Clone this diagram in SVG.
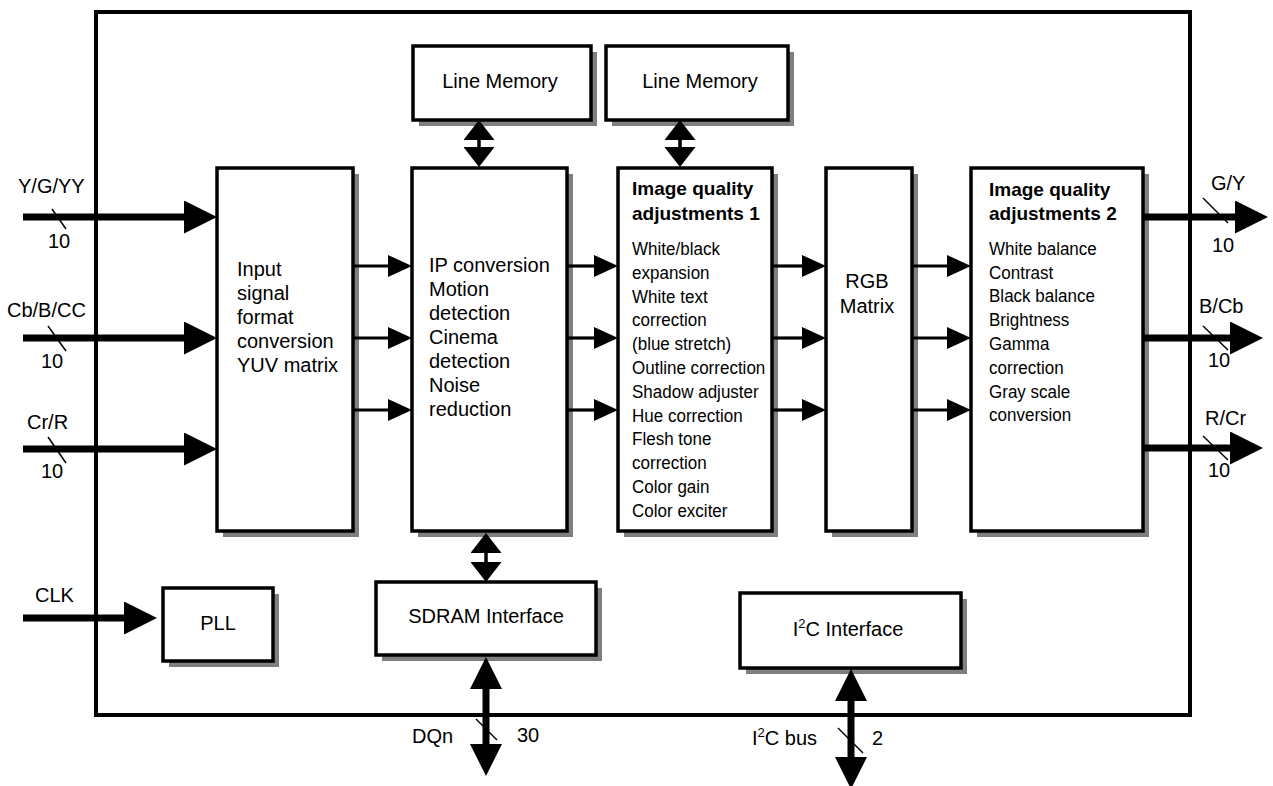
<svg xmlns="http://www.w3.org/2000/svg" width="1273" height="786" viewBox="0 0 1273 786">
<style>
text{font-family:"Liberation Sans",Arial,sans-serif;font-size:20px;fill:#000}
.box{fill:#fff;stroke:#000;stroke-width:3.5}
.sh{fill:#7f7f7f}
.frame{fill:none;stroke:#000;stroke-width:4}
.thin{stroke:#000;stroke-width:3.2;fill:none;marker-end:url(#ah)}
.thick{stroke:#000;stroke-width:7;fill:none;marker-end:url(#ahb)}
.dbl{stroke:#000;stroke-width:3.5;fill:none;marker-start:url(#dh);marker-end:url(#dh)}
.dblb{stroke:#000;stroke-width:7;fill:none;marker-start:url(#dhb);marker-end:url(#dhb)}
.tick{stroke:#000;stroke-width:1.5}
.t{font-weight:bold;font-size:19px}
.n{font-size:18.5px}
.m{text-anchor:middle}
</style>
<defs>
<marker id="ah" markerUnits="userSpaceOnUse" viewBox="0 0 24 22" refX="1" refY="11" markerWidth="24" markerHeight="22" orient="auto"><path d="M0,0 L24,11 L0,22 z" fill="#000"/></marker>
<marker id="ahb" markerUnits="userSpaceOnUse" viewBox="0 0 33 33" refX="1" refY="16.5" markerWidth="33" markerHeight="33" orient="auto"><path d="M0,0 L33,16.5 L0,33 z" fill="#000"/></marker>
<marker id="dh" markerUnits="userSpaceOnUse" viewBox="0 0 20 31" refX="1" refY="15.5" markerWidth="20" markerHeight="31" orient="auto-start-reverse"><path d="M0,0 L20,15.5 L0,31 z" fill="#000"/></marker>
<marker id="dhb" markerUnits="userSpaceOnUse" viewBox="0 0 32 32" refX="1" refY="16" markerWidth="32" markerHeight="32" orient="auto-start-reverse"><path d="M0,0 L32,16 L0,32 z" fill="#000"/></marker>
</defs>
<rect width="1273" height="786" fill="#fff"/>
<rect class="frame" x="96" y="12" width="1094" height="703"/>

<g id="line-memory-1">
<rect class="sh" x="419" y="52" width="178" height="74"/>
<rect class="box" x="413" y="46" width="178" height="74"/>
<text class="m" x="500" y="88">Line Memory</text>
</g>
<g id="line-memory-2">
<rect class="sh" x="612" y="52" width="182" height="74"/>
<rect class="box" x="606" y="46" width="182" height="74"/>
<text class="m" x="700" y="88">Line Memory</text>
</g>
<g id="input-conversion">
<rect class="sh" x="223" y="174" width="136" height="363"/>
<rect class="box" x="217" y="168" width="136" height="363"/>
<text x="237" y="276">Input</text>
<text x="237" y="300">signal</text>
<text x="237" y="324">format</text>
<text x="237" y="348">conversion</text>
<text x="237" y="372">YUV matrix</text>
</g>
<g id="ip-conversion">
<rect class="sh" x="418" y="174" width="155" height="363"/>
<rect class="box" x="412" y="168" width="155" height="363"/>
<text x="429" y="272">IP conversion</text>
<text x="429" y="296">Motion</text>
<text x="429" y="320">detection</text>
<text x="429" y="344">Cinema</text>
<text x="429" y="368">detection</text>
<text x="429" y="392">Noise</text>
<text x="429" y="416">reduction</text>
</g>
<g id="image-quality-1">
<rect class="sh" x="624" y="174" width="154" height="363"/>
<rect class="box" x="618" y="168" width="154" height="363"/>
<text class="t" x="632" y="195">Image quality</text>
<text class="t" x="632" y="220">adjustments 1</text>
<g transform="translate(632,0) scale(0.92,1)">
<text class="n" x="0" y="255">White/black</text>
<text class="n" x="0" y="279">expansion</text>
<text class="n" x="0" y="303">White text</text>
<text class="n" x="0" y="326">correction</text>
<text class="n" x="0" y="350">(blue stretch)</text>
<text class="n" x="0" y="374">Outline correction</text>
<text class="n" x="0" y="398">Shadow adjuster</text>
<text class="n" x="0" y="422">Hue correction</text>
<text class="n" x="0" y="445">Flesh tone</text>
<text class="n" x="0" y="469">correction</text>
<text class="n" x="0" y="493">Color gain</text>
<text class="n" x="0" y="517">Color exciter</text>
</g>
</g>
<g id="rgb-matrix">
<rect class="sh" x="832" y="174" width="86" height="363"/>
<rect class="box" x="826" y="168" width="86" height="363"/>
<text class="m" x="867" y="288">RGB</text>
<text class="m" x="867" y="313">Matrix</text>
</g>
<g id="image-quality-2">
<rect class="sh" x="977" y="174" width="172" height="363"/>
<rect class="box" x="971" y="168" width="172" height="363"/>
<text class="t" x="989" y="196">Image quality</text>
<text class="t" x="989" y="220">adjustments 2</text>
<g transform="translate(989,0) scale(0.92,1)">
<text class="n" x="0" y="255">White balance</text>
<text class="n" x="0" y="279">Contrast</text>
<text class="n" x="0" y="302">Black balance</text>
<text class="n" x="0" y="326">Brightness</text>
<text class="n" x="0" y="350">Gamma</text>
<text class="n" x="0" y="374">correction</text>
<text class="n" x="0" y="398">Gray scale</text>
<text class="n" x="0" y="421">conversion</text>
</g>
</g>
<g id="pll">
<rect class="sh" x="169" y="594" width="110" height="73"/>
<rect class="box" x="163" y="588" width="110" height="73"/>
<text class="m" x="218" y="630">PLL</text>
</g>
<g id="sdram-interface">
<rect class="sh" x="382" y="588" width="220" height="73"/>
<rect class="box" x="376" y="582" width="220" height="73"/>
<text class="m" x="486" y="623">SDRAM Interface</text>
</g>
<g id="i2c-interface">
<rect class="sh" x="746" y="599" width="221" height="75"/>
<rect class="box" x="740" y="593" width="221" height="75"/>
<text class="m" x="848" y="636">I<tspan font-size="13" dy="-8">2</tspan><tspan dy="8">C Interface</tspan></text>
</g>

<g id="connectors">
<line class="thick" x1="23" y1="217" x2="185" y2="217"/>
<line class="thick" x1="23" y1="338" x2="185" y2="338"/>
<line class="thick" x1="23" y1="449" x2="185" y2="449"/>
<line class="thick" x1="23" y1="618" x2="125" y2="618"/>
<line class="thick" x1="1143" y1="217" x2="1236" y2="217"/>
<line class="thick" x1="1143" y1="338" x2="1231" y2="338"/>
<line class="thick" x1="1143" y1="448" x2="1231" y2="448"/>
<line class="thin" x1="353" y1="266" x2="389" y2="266"/>
<line class="thin" x1="353" y1="338" x2="389" y2="338"/>
<line class="thin" x1="353" y1="410" x2="389" y2="410"/>
<line class="thin" x1="567" y1="266" x2="595" y2="266"/>
<line class="thin" x1="567" y1="338" x2="595" y2="338"/>
<line class="thin" x1="567" y1="410" x2="595" y2="410"/>
<line class="thin" x1="772" y1="266" x2="803" y2="266"/>
<line class="thin" x1="772" y1="338" x2="803" y2="338"/>
<line class="thin" x1="772" y1="410" x2="803" y2="410"/>
<line class="thin" x1="912" y1="266" x2="948" y2="266"/>
<line class="thin" x1="912" y1="338" x2="948" y2="338"/>
<line class="thin" x1="912" y1="410" x2="948" y2="410"/>
<line class="dbl" x1="479" y1="139" x2="479" y2="148"/>
<line class="dbl" x1="680" y1="139" x2="680" y2="148"/>
<line class="dbl" x1="486" y1="552" x2="486" y2="563"/>
<line class="dblb" x1="486" y1="688" x2="486" y2="745"/>
<line class="dblb" x1="851" y1="700" x2="851" y2="758"/>
<line class="tick" x1="52" y1="209" x2="66" y2="229"/>
<line class="tick" x1="48" y1="326" x2="66" y2="351"/>
<line class="tick" x1="48" y1="437" x2="66" y2="463"/>
<line class="tick" x1="1203" y1="198" x2="1228" y2="223"/>
<line class="tick" x1="1203" y1="326" x2="1228" y2="350"/>
<line class="tick" x1="1203" y1="436" x2="1228" y2="460"/>
<line class="tick" x1="476" y1="719" x2="497" y2="740"/>
<line class="tick" x1="838" y1="728" x2="863" y2="753"/>
</g>

<g id="labels">
<text x="18" y="193">Y/G/YY</text>
<text x="48" y="248">10</text>
<text x="7" y="317">Cb/B/CC</text>
<text x="41" y="368">10</text>
<text x="27" y="429">Cr/R</text>
<text x="41" y="478">10</text>
<text x="35" y="602">CLK</text>
<text x="1211" y="190">G/Y</text>
<text x="1212" y="252">10</text>
<text x="1199" y="313">B/Cb</text>
<text x="1208" y="367">10</text>
<text x="1205" y="425">R/Cr</text>
<text x="1208" y="477">10</text>
<text x="412" y="743">DQn</text>
<text x="517" y="742">30</text>
<text x="752" y="745">I<tspan font-size="13" dy="-8">2</tspan><tspan dy="8">C bus</tspan></text>
<text x="872" y="745">2</text>
</g>
</svg>
